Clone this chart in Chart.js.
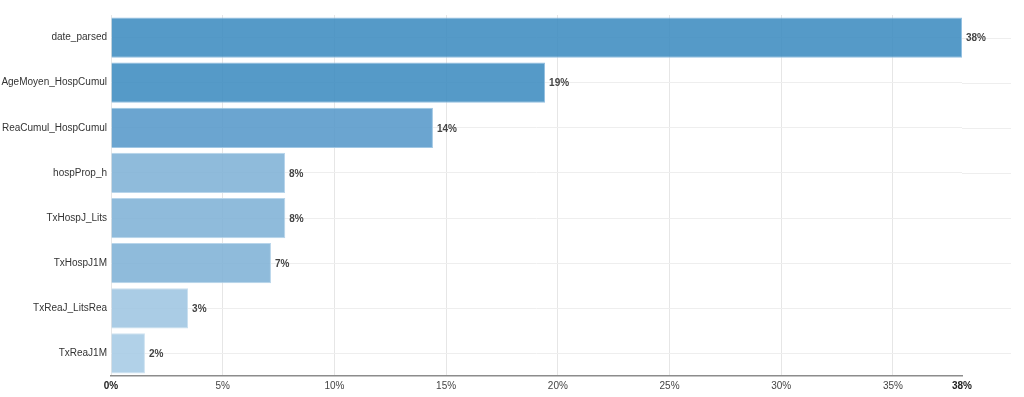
<!DOCTYPE html>
<html>
<head>
<meta charset="utf-8">
<script src="https://cdn.jsdelivr.net/npm/chart.js@4"></script>
<style>
  html, body { margin: 0; padding: 0; background: #fff; }
  #wrap { width: 1024px; height: 397px; position: relative; }
</style>
</head>
<body>
<div id="wrap"><canvas id="c"></canvas></div>
<script>
const categories = ["date_parsed", "AgeMoyen_HospCumul", "ReaCumul_HospCumul", "hospProp_h", "TxHospJ_Lits", "TxHospJ1M", "TxReaJ_LitsRea", "TxReaJ1M"];
const importance = [38.09, 19.43, 14.41, 7.79, 7.80, 7.16, 3.45, 1.52];
const valueLabels = ["38%", "19%", "14%", "8%", "8%", "7%", "3%", "2%"];
const tickValues = [0, 5, 10, 15, 20, 25, 30, 35];
const fillColors = ["rgba(62,140,192,0.88)", "rgba(62,140,192,0.88)", "rgba(86,153,201,0.88)", "rgba(128,178,214,0.88)", "rgba(128,178,214,0.88)", "rgba(128,178,214,0.88)", "rgba(158,197,225,0.88)", "rgba(166,203,229,0.88)"];
const borderColors = ["#93c0e1", "#93c0e1", "#a0c7e4", "#b8d5eb", "#b8d5eb", "#b8d5eb", "#cae0f0", "#cfe3f1"];

const maxVal = Math.max(...importance);
const FONT = "Arial, 'Liberation Sans', sans-serif";

const valueLabelPlugin = {
  id: 'valueLabels',
  afterDatasetsDraw(chart) {
    const ctx = chart.ctx;
    const meta = chart.getDatasetMeta(0);
    ctx.save();
    ctx.font = "bold 10px " + FONT;
    ctx.fillStyle = "#444";
    ctx.textAlign = "left";
    ctx.textBaseline = "middle";
    meta.data.forEach((bar, i) => {
      ctx.fillText(valueLabels[i], bar.x + 4, bar.y + 1);
    });
    ctx.restore();
  }
};

const gridExtendPlugin = {
  id: 'gridExtend',
  beforeDatasetsDraw(chart) {
    const ctx = chart.ctx;
    const y = chart.scales.y;
    const area = chart.chartArea;
    ctx.save();
    ctx.strokeStyle = "#eeeeee";
    ctx.lineWidth = 1;
    categories.forEach((c, i) => {
      const py = Math.round(y.getPixelForValue(i)) + 0.5;
      ctx.beginPath();
      ctx.moveTo(area.right, py);
      ctx.lineTo(area.right + 49, py);
      ctx.stroke();
    });
    ctx.restore();
  }
};

new Chart(document.getElementById('c'), {
  type: 'bar',
  data: {
    labels: categories,
    datasets: [{
      data: importance,
      backgroundColor: fillColors,
      borderColor: borderColors,
      borderWidth: 1,
      barPercentage: 0.89,
      categoryPercentage: 1.0
    }]
  },
  options: {
    indexAxis: 'y',
    responsive: true,
    maintainAspectRatio: false,
    animation: false,
    layout: { padding: { top: 15, right: 62, left: 0, bottom: 0 } },
    plugins: { legend: { display: false }, tooltip: { enabled: false } },
    scales: {
      x: {
        min: 0,
        max: maxVal,
        afterBuildTicks(scale) {
          scale.ticks = tickValues.map(v => ({ value: v })).concat([{ value: maxVal }]);
        },
        afterFit(scale) { scale.height = 21; },
        grid: {
          color: (ctx) => (ctx.index === tickValues.length ? 'rgba(0,0,0,0)' : '#e6e6e6'),
          drawTicks: false
        },
        border: { display: true, color: '#8c8c8c', width: 1.5 },
        ticks: {
          padding: 4,
          maxRotation: 0,
          autoSkip: false,
          color: (ctx) => (ctx.index === 0 || ctx.index === tickValues.length) ? '#222' : '#444',
          font: (ctx) => ({ family: FONT, size: 10, weight: (ctx.index === 0 || ctx.index === tickValues.length) ? 'bold' : 'normal' }),
          callback: (v, i) => (i === tickValues.length ? valueLabels[0] : v + '%')
        }
      },
      y: {
        afterFit(scale) { scale.width = 111; },
        grid: { offset: false, color: '#eeeeee', drawTicks: false },
        border: { display: false },
        ticks: {
          padding: 4,
          color: '#333',
          font: { family: FONT, size: 10 }
        }
      }
    }
  },
  plugins: [gridExtendPlugin, valueLabelPlugin]
});
</script>
</body>
</html>
